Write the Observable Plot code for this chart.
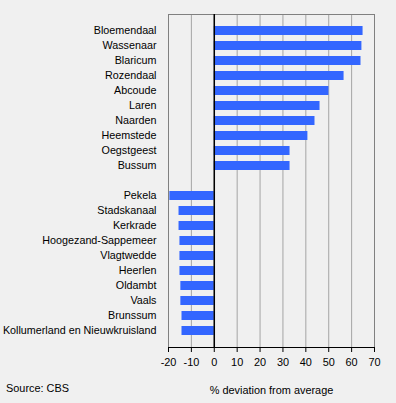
<!DOCTYPE html>
<html>
<head>
<meta charset="utf-8">
<script src="https://cdn.jsdelivr.net/npm/d3@7"></script>
<script src="https://cdn.jsdelivr.net/npm/@observablehq/plot@0.6"></script>
<style>
  html, body { margin: 0; padding: 0; background: #f0f0f0; }
  #wrap { position: relative; width: 396px; height: 403px; font-family: Arial, "Liberation Sans", sans-serif; }
  #source { position: absolute; left: 6px; top: 382px; font-size: 10.9px; color: #000; }
</style>
</head>
<body>
<div id="wrap"><div id="chart"></div><div id="source">Source: CBS</div></div>
<script>
const municipalities = [
  "Bloemendaal", "Wassenaar", "Blaricum", "Rozendaal", "Abcoude", "Laren", "Naarden",
  "Heemstede", "Oegstgeest", "Bussum", " ",
  "Pekela", "Stadskanaal", "Kerkrade", "Hoogezand-Sappemeer", "Vlagtwedde", "Heerlen",
  "Oldambt", "Vaals", "Brunssum", "Kollumerland en Nieuwkruisland"
];
const deviation = [
  65.0, 64.5, 64.1, 56.7, 50.1, 46.2, 44.0, 40.9, 33.1, 33.1, null,
  -19.4, -15.4, -15.4, -15.0, -15.0, -15.0, -14.6, -14.6, -14.1, -14.1
];
const xTicks = [-20, -10, 0, 10, 20, 30, 40, 50, 60, 70];

const data = municipalities.map((name, i) => ({name, value: deviation[i]}));

const chart = Plot.plot({
  width: 396,
  height: 403,
  marginLeft: 168,
  marginRight: 22,
  marginTop: 14,
  marginBottom: 56,
  style: {background: "#f0f0f0", fontFamily: "Arial, 'Liberation Sans', sans-serif", fontSize: "10.9px", color: "#000"},
  x: {domain: [-20, 70]},
  y: {domain: municipalities, paddingInner: 0.43, paddingOuter: 0.215},
  marks: [
    Plot.gridX(xTicks, {stroke: "#a4a4a4", strokeOpacity: 1}),
    Plot.frame({stroke: "#808080"}),
    Plot.barX(data.filter(d => d.value != null), {x: "value", y: "name", fill: "#3366ff"}),
    Plot.ruleX([0], {stroke: "#000", strokeWidth: 1.5}),
    Plot.frame({anchor: "bottom", stroke: "#000"}),
    Plot.axisX(xTicks, {tickSize: 5, tickPadding: 6, fontSize: 10.9, tickFormat: d => String(d), label: "% deviation from average", labelAnchor: "center", labelOffset: 46, labelArrow: "none"}),
    Plot.axisY({tickSize: 0, tickPadding: 12, fontSize: 10.75, label: null})
  ]
});
document.getElementById("chart").appendChild(chart);
</script>
</body>
</html>
